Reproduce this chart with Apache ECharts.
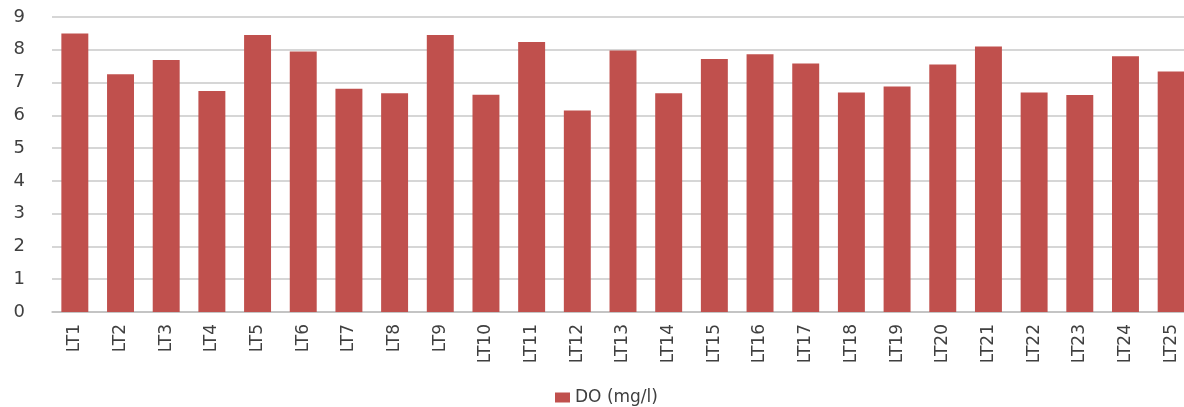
<!DOCTYPE html>
<html>
<head>
<meta charset="utf-8">
<script src="https://cdn.jsdelivr.net/npm/echarts@6/dist/echarts.min.js"></script>
<style>
  html, body { margin: 0; padding: 0; background: #fff; overflow: hidden; }
  /* canvas runs slightly past the window so the last column is clipped at the edge */
  #chart { width: 1194px; height: 407px; }
</style>
</head>
<body>
<div id="chart"></div>
<script>
// Dissolved oxygen per sampling station
const stations = ['LT1','LT2','LT3','LT4','LT5','LT6','LT7','LT8','LT9','LT10','LT11','LT12','LT13',
  'LT14','LT15','LT16','LT17','LT18','LT19','LT20','LT21','LT22','LT23','LT24','LT25'];
const doValues = [8.50, 7.25, 7.69, 6.74, 8.45, 7.95, 6.81, 6.67, 8.45, 6.63, 8.24, 6.15, 7.98,
  6.67, 7.72, 7.86, 7.58, 6.70, 6.88, 7.55, 8.10, 6.70, 6.62, 7.80, 7.34];
const seriesName = 'DO (mg/l)';

const wideFont = '"DejaVu Sans", Verdana, sans-serif';

const chart = echarts.init(document.getElementById('chart'), null, { renderer: 'canvas' });
chart.setOption({
  animation: false,
  backgroundColor: '#ffffff',
  grid: { left: 52, right: 0, top: 17, bottom: 95, containLabel: false },
  legend: {
    data: [seriesName],
    left: 550,
    top: 384,
    itemWidth: 15,
    itemHeight: 10,
    itemGap: 6,
    icon: 'rect',
    textStyle: { fontFamily: wideFont, fontSize: 17, color: '#404040' }
  },
  xAxis: {
    type: 'category',
    data: stations,
    axisTick: { show: false },
    axisLine: { lineStyle: { color: '#bfbfbf', width: 1.5 } },
    axisLabel: {
      rotate: 90,
      interval: 0,
      margin: 12,
      fontFamily: wideFont,
      fontSize: 17,
      color: '#404040'
    }
  },
  yAxis: {
    type: 'value',
    min: 0,
    max: 9,
    interval: 1,
    axisLine: { show: false },
    axisTick: { show: false },
    axisLabel: {
      margin: 27,
      fontFamily: wideFont,
      fontSize: 18,
      color: '#404040'
    },
    splitLine: { lineStyle: { color: '#c8c8c8', width: 1.5 } }
  },
  series: [{
    name: seriesName,
    type: 'bar',
    data: doValues,
    barCategoryGap: '41%',
    itemStyle: { color: '#c0504d' }
  }]
});
</script>
</body>
</html>
